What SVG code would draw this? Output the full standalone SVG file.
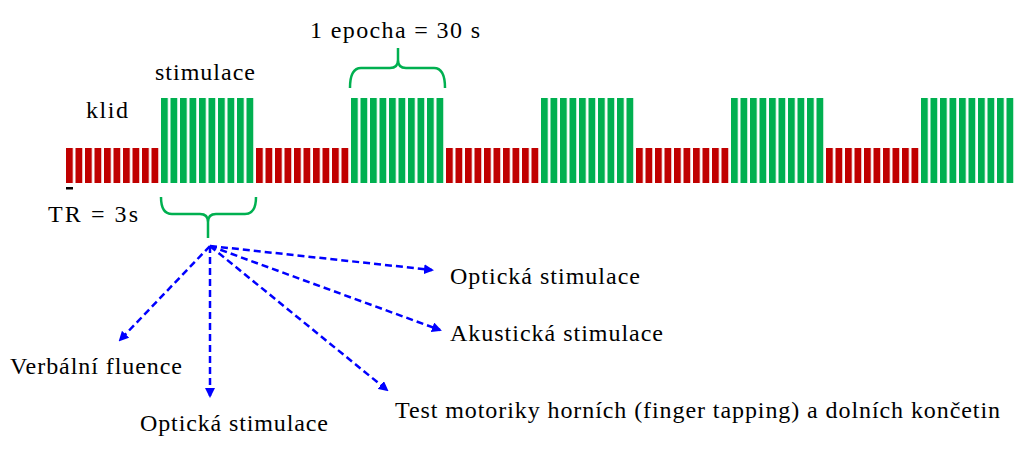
<svg xmlns="http://www.w3.org/2000/svg" width="1023" height="450" viewBox="0 0 1023 450">
<style>
text{font-family:"Liberation Serif",serif;font-size:24px;fill:#000}
.r{fill:#c00000}.g{fill:#00b050}
.br{fill:none;stroke:#00b050;stroke-width:2.5}
.ar{stroke:#0000ff;stroke-width:2.5;stroke-dasharray:7,4;fill:none;marker-end:url(#a)}
</style>
<defs>
<pattern id="pr" x="66" y="0" width="9.5" height="450" patternUnits="userSpaceOnUse"><rect width="6.8" height="450" class="r"/></pattern>
<pattern id="pg" x="161" y="0" width="9.5" height="450" patternUnits="userSpaceOnUse"><rect width="6.8" height="450" class="g"/></pattern>
<marker id="a" markerWidth="10" markerHeight="10" refX="8" refY="5" orient="auto" markerUnits="userSpaceOnUse"><path d="M0,0L10,5L0,10z" fill="#0000ff"/></marker>
</defs>
<g id="bars">
<rect x="66" y="148" width="95" height="35" fill="url(#pr)"/>
<rect x="161" y="98" width="95" height="85" fill="url(#pg)"/>
<rect x="256" y="148" width="95" height="35" fill="url(#pr)"/>
<rect x="351" y="98" width="95" height="85" fill="url(#pg)"/>
<rect x="446" y="148" width="95" height="35" fill="url(#pr)"/>
<rect x="541" y="98" width="95" height="85" fill="url(#pg)"/>
<rect x="636" y="148" width="95" height="35" fill="url(#pr)"/>
<rect x="731" y="98" width="95" height="85" fill="url(#pg)"/>
<rect x="826" y="148" width="95" height="35" fill="url(#pr)"/>
<rect x="921" y="98" width="95" height="85" fill="url(#pg)"/>
<rect x="66" y="187" width="7" height="2.5" fill="#000"/>
</g>
<g id="braces">
<path class="br" d="M161,197 Q161,214 172,214 L200,214 Q208,214 208,222 L208,238 M256,197 Q256,214 245,214 L216,214 Q208,214 208,222"/>
<path class="br" d="M350,88 Q350,68 361,68 L390,68 Q398,68 398,60 L398,48 M445,88 Q445,68 434,68 L406,68 Q398,68 398,60"/>
</g>
<g id="connectors">
<path class="ar" d="M210,246 L120,340"/>
<path class="ar" d="M210,246 L210,396"/>
<path class="ar" d="M210,246 L432,270"/>
<path class="ar" d="M210,246 L440,330"/>
<path class="ar" d="M210,246 L387,390"/>
</g>
<g id="labels">
<text x="310" y="38" textLength="170">1 epocha = 30 s</text>
<text x="155" y="80" textLength="100">stimulace</text>
<text x="86" y="118" textLength="42">klid</text>
<text x="48" y="222" textLength="90">TR = 3s</text>
<text x="450" y="284" textLength="190">Optická stimulace</text>
<text x="450" y="341" textLength="213">Akustická stimulace</text>
<text x="10" y="374" textLength="172">Verbální fluence</text>
<text x="140" y="431" textLength="188">Optická stimulace</text>
<text x="395" y="418" textLength="605">Test motoriky horních (finger tapping) a dolních končetin</text>
</g>
</svg>
